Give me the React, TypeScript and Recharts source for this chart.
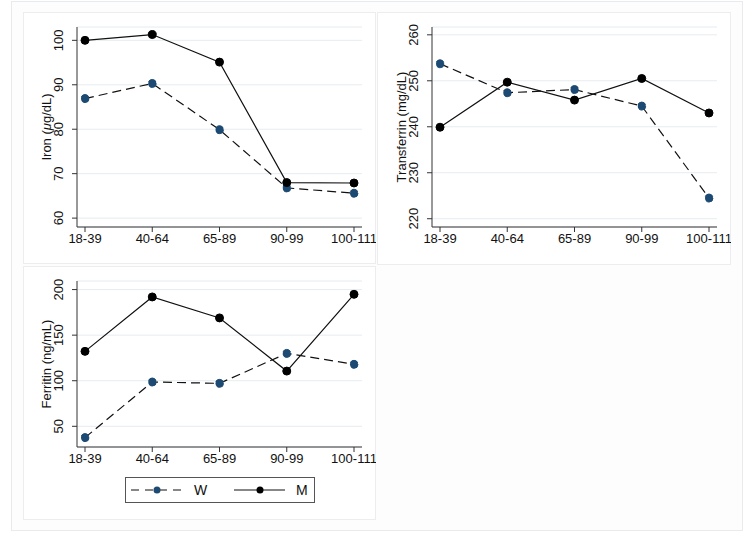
import React from "react";
import { LineChart, Line, XAxis, YAxis, CartesianGrid } from "recharts";

const ageGroups = ["18-39", "40-64", "65-89", "90-99", "100-111"];

const ironW = [86.9, 90.3, 79.9, 66.8, 65.6];
const ironM = [100.0, 101.3, 95.1, 68.0, 67.9];
const ironTicks = [60, 70, 80, 90, 100];

const transferrinW = [253.7, 247.4, 248.1, 244.5, 224.5];
const transferrinM = [239.9, 249.7, 245.8, 250.5, 243.0];
const transferrinTicks = [220, 230, 240, 250, 260];

const ferritinW = [37.6, 98.6, 97.1, 130.0, 118.0];
const ferritinM = [132.2, 191.9, 168.9, 110.6, 194.8];
const ferritinTicks = [50, 100, 150, 200];

const FONT = "'Liberation Sans', Arial, Helvetica, sans-serif";
const NAVY = "#1d4a73";
const INK = "#111";
const DASH = "9 5";

function RotatedTick(props: any) {
  const { x, y, payload } = props;
  const bx = x - 7;
  return (
    <text
      x={bx}
      y={y}
      transform={`rotate(-90 ${bx} ${y})`}
      textAnchor="middle"
      fontSize={13}
      fontFamily={FONT}
      fill={INK}
    >
      {payload.value}
    </text>
  );
}

function axisTitle(title: React.ReactNode) {
  return (p: any) => {
    const vb = p.viewBox || {};
    const cx = vb.x + vb.width - 31 + 4.6;
    const cy = vb.y + vb.height / 2;
    return (
      <text
        x={cx}
        y={cy}
        transform={`rotate(-90 ${cx} ${cy})`}
        textAnchor="middle"
        fontSize={13}
        fontFamily={FONT}
        fill={INK}
      >
        {title}
      </text>
    );
  };
}

type PanelProps = {
  left: number;
  top: number;
  width: number;
  height: number;
  title: React.ReactNode;
  w: number[];
  m: number[];
  domain: [number, number];
  ticks: number[];
  yAxisWidth: number;
  xAxisHeight: number;
};

function Panel({ left, top, width, height, title, w, m, domain, ticks, yAxisWidth, xAxisHeight }: PanelProps) {
  const data = ageGroups.map((g, i) => ({ age: g, W: w[i], M: m[i] }));
  return (
    <div
      style={{
        position: "absolute",
        left,
        top,
        width,
        height,
        background: "#fff",
        outline: "1px solid #ebedee",
        outlineOffset: -1,
      }}
    >
      <LineChart width={width} height={height} data={data} margin={{ top: 15, right: 14, bottom: 0, left: 0 }}>
        <CartesianGrid vertical={false} stroke="#e6ecf0" strokeWidth={1} />
        <XAxis
          dataKey="age"
          interval={0}
          padding={{ left: 8, right: 8 }}
          height={xAxisHeight}
          tickSize={5}
          tick={{ fontSize: 13, fill: INK, fontFamily: FONT }}
          axisLine={{ stroke: "#333" }}
          tickLine={{ stroke: "#333" }}
        />
        <YAxis
          type="number"
          domain={domain}
          ticks={ticks}
          allowDataOverflow
          width={yAxisWidth}
          tickSize={5}
          tick={<RotatedTick />}
          axisLine={{ stroke: "#333" }}
          tickLine={{ stroke: "#333" }}
          label={{ content: axisTitle(title) }}
        />
        <Line
          type="linear"
          dataKey="W"
          stroke={INK}
          strokeWidth={1.2}
          strokeDasharray={DASH}
          dot={{ r: 4, fill: NAVY, stroke: NAVY, strokeWidth: 1 }}
          isAnimationActive={false}
        />
        <Line
          type="linear"
          dataKey="M"
          stroke={INK}
          strokeWidth={1.2}
          dot={{ r: 4, fill: "#000", stroke: "#000", strokeWidth: 1 }}
          isAnimationActive={false}
        />
      </LineChart>
    </div>
  );
}

function LegendBox() {
  return (
    <svg
      width={190}
      height={26}
      style={{ position: "absolute", left: 125, top: 477 }}
      fontFamily={FONT}
    >
      <rect x={0.5} y={0.5} width={189} height={25} fill="#fff" stroke="#555" strokeWidth={1} />
      <line x1={6} y1={13} x2={58} y2={13} stroke={INK} strokeWidth={1.2} strokeDasharray="8 6" />
      <circle cx={32} cy={13} r={3.5} fill={NAVY} />
      <text x={69} y={18} fontSize={14} fill={INK}>W</text>
      <line x1={109} y1={13} x2={160} y2={13} stroke={INK} strokeWidth={1.2} />
      <circle cx={135} cy={13} r={3.5} fill="#000" />
      <text x={171} y={18} fontSize={14} fill={INK}>M</text>
    </svg>
  );
}

export default function App() {
  return (
    <div style={{ position: "absolute", left: 0, top: 0, width: 754, height: 533, background: "#fff", fontFamily: FONT }}>
      <div
        style={{
          position: "absolute",
          left: 11,
          top: 1,
          width: 732,
          height: 530,
          boxSizing: "border-box",
          border: "1px solid #e8ebed",
          background: "#fdfdfd",
        }}
      />
      <Panel
        left={23}
        top={12}
        width={353}
        height={252}
        title={
          <>
            Iron (<tspan fontStyle="italic">μ</tspan>g/dL)
          </>
        }
        w={ironW}
        m={ironM}
        domain={[58, 103]}
        ticks={ironTicks}
        yAxisWidth={54}
        xAxisHeight={37}
      />
      <Panel
        left={377}
        top={12}
        width={354}
        height={253}
        title="Transferrin (mg/dL)"
        w={transferrinW}
        m={transferrinM}
        domain={[218.2, 261.7]}
        ticks={transferrinTicks}
        yAxisWidth={55}
        xAxisHeight={38}
      />
      <Panel
        left={23}
        top={266}
        width={353}
        height={254}
        title="Ferritin (ng/mL)"
        w={ferritinW}
        m={ferritinM}
        domain={[27.3, 209.4]}
        ticks={ferritinTicks}
        yAxisWidth={54}
        xAxisHeight={73}
      />
      <LegendBox />
    </div>
  );
}
